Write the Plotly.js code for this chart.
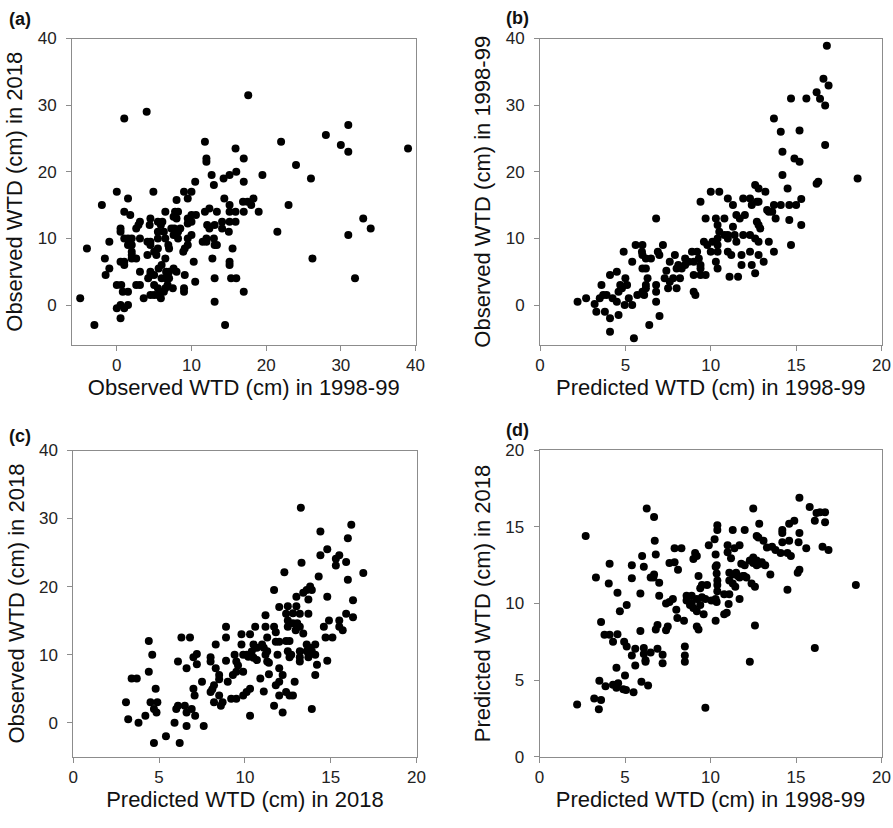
<!DOCTYPE html>
<html>
<head>
<meta charset="utf-8">
<script src="https://cdn.plot.ly/plotly-3.0.1.min.js"></script>
<style>html,body{margin:0;padding:0;background:#fff;}#chart{width:893px;height:828px;}</style>
</head>
<body>
<div id="chart"></div>
<script>
// Panel (a): observed WTD 1998-99 (x) vs observed WTD 2018 (y)
const aObs1998 = [
17.6,4.0,1.0,31.0,28.0,11.8,22.0,15.9,30.0,31.0,
39.0,12.0,12.0,17.0,24.0,12.7,14.3,15.1,16.0,19.5,
26.0,13.0,17.0,10.5,0,4.9,9.0,10.0,9.5,8.0,
1.5,14.4,-2.0,16.9,17.5,18.3,18.0,15.1,12.4,23.0,
1.0,1.8,6.5,7.8,8.2,11.8,13.4,15.1,15.9,17.0,
19.0,7.6,8.0,4.5,3.1,5.5,6.1,9.5,10,10.6,
10,9.5,2.6,2.9,4.4,5.9,5.5,6.3,7.3,7.7,
8.2,8.5,7.6,12.1,12.4,13.1,14.1,14.1,15.1,15.9,
15.0,21.5,33.0,34.0,31.0,0.5,0.5,-1.0,-4.0,1.0,
1.5,2.0,1.5,2.0,2.0,3.1,4.1,4.5,4.5,5.5,
5.5,6.5,6.9,7.0,5.0,5.3,4.1,6.5,8.2,9.5,
10,9.1,8.9,9.5,12,13,12,13.1,13.4,11.5,
15.5,12.8,10.3,15.1,15.1,-1.6,-1.0,-1.5,0.5,1.0,
1.0,2.0,2.6,2.0,3.1,4.5,4.5,5.0,4.2,5.6,
6.0,6.6,7.0,6.0,6.6,7.0,7.6,8.0,9.1,10.5,
13.1,15.3,16.0,26.2,31.9,0,0.6,2.6,3.1,0.8,
1.5,3.6,4.5,5.0,5.5,5.9,5,5.5,6.5,6.8,
7.5,6.3,9.0,9.0,17.0,0,0.5,1.0,1.5,0.5,
13.1,-4.9,-3.0,14.5];
const aObs2018 = [
31.5,29.0,28.0,27.0,25.5,24.5,24.5,23.5,24.0,23.0,
23.5,22.0,21.5,22.0,21.0,19.5,19.0,19.5,20.0,19.5,
19.0,18.0,18.5,18.5,17.0,17.0,17.0,17.0,16.0,15.75,
16.0,16.0,15.0,15.5,15.5,16.0,15.0,15.0,14.5,15.0,
14.0,13.5,14.0,14.0,14.0,14.0,14.0,14.0,14.0,14.0,
14.0,13.25,13.0,13.0,12.5,12.5,12.5,13.0,13.5,13.5,
12.5,12.25,11.5,12.0,12.0,12.0,11.0,11.0,11.5,11.5,
11.0,11.5,10.5,12.0,11.5,12.0,12.5,11.5,12.5,12.5,
11.0,11.0,13.0,11.5,10.5,11.5,11.0,9.5,8.5,10.0,
10.0,10.0,9.0,9.0,8.0,10.0,9.5,9.5,9.0,10.0,
8.5,10.0,9.0,8.5,8.0,7.5,7.5,7.0,10.0,10.0,
10.5,8.5,8.0,9.0,10.0,10.0,9.5,9.0,9.0,9.5,
8.5,7.0,6.5,6.5,6.0,7.0,5.5,4.5,6.5,6.5,
6.0,7.0,7.0,7.5,5.0,5.0,4.5,4.5,4.0,5.5,
6.0,5.0,5.0,4.0,4.0,4.0,5.5,5.0,4.5,3.5,
4.0,4.0,4.0,7.0,4.0,3.0,3.0,3.0,3.0,2.0,
2.0,1.0,1.5,1.5,1.5,1.0,3.0,2.5,2.5,3.0,
2.5,2.0,2.5,2.0,2.0,-0.5,0,-0.5,0,-2.0,
0.5,1.0,-3.0,-3.0];

// Panel (b): predicted WTD 1998-99 (x) vs observed WTD 1998-99 (y)
const bPred1998 = [
16.8,16.6,16.9,16.2,16.4,16.7,14.7,15.6,13.7,14.1,
15.2,14.2,14.9,15.2,16.7,14.2,18.6,16.2,16.3,14.5,
12.6,12.8,13.2,10.0,10.5,9.4,11.0,11.3,11.9,12.3,
12.8,12.4,12.7,13.3,13.4,13.7,13.6,13.8,14.1,14.6,
15.0,15.3,14.6,15.3,6.8,9.7,10.3,10.8,11.5,11.7,
12.0,10.4,11.3,12.7,12.9,12.8,10.5,10.8,11.0,10.4,
10.1,11.4,11.5,11.0,11.9,12.3,12.6,12.8,13.4,9.6,
9.8,10.0,10.4,10.4,11.0,11.2,11.8,11.8,12.3,12.4,
12.6,12.8,13.1,13.7,14.7,11.1,11.6,10.3,10.4,9.7,
9.4,9.0,8.9,9.2,9.3,9.0,9.4,9.4,8.5,8.7,
8.5,8.1,8.0,8.3,7.6,7.9,9.0,9.1,7.4,7.3,
7.6,7.8,8.0,7.5,8.2,5.6,6.0,5.97,6.2,6.5,
6.0,6.9,7.2,6.99,4.9,5.4,6.0,6.2,6.3,6.2,
6.2,6.8,6.8,6.8,6.4,7.0,5.5,4.1,4.1,3.8,
4.6,3.3,2.2,2.7,3.2,3.5,3.7,3.9,3.6,4.1,
4.5,4.25,4.5,4.6,4.7,4.8,5.0,5.1,4.96,5.2,
5.4,5.7,6.0,6.1];
const bObs1998 = [
38.9,33.95,32.95,31.95,30.95,29.95,31,31,28,26,
26.2,23,22,21.5,24,19.5,19,18.2,18.5,17.5,
18,17.5,17,17,17,15.5,16,15,16,16,
15.5,15,15.5,14.25,14,15,14,13,15,15,
15,15.9,12.75,12,13,13,13,13,13.5,13,
13.5,12,11.75,12.5,11.5,12,11,10.5,10.5,10,
9.5,10.5,9.5,10,10.5,10.5,10,9.5,9.5,9.5,
9,8,8,9,8,7.5,7.5,6,8,6,
4.75,7.5,6.5,8,9,4.25,4.25,6.5,5.5,4.5,
4.5,4.5,8,8,7,6.5,6,5.5,7,6.5,
6,6,5.5,5.5,6.5,7.5,2,1.5,5.15,4,
3.5,4,2.5,2.5,4,9,9,8,7,7,
7.5,8,9,7.5,8,6.5,5.5,5.5,4,3,
2.5,3,2,0.5,-3,-1.65,-5,-4,-2,-1,
-1.5,-1,0.5,1,0.15,1,1.5,1.5,3,4.5,
5,1,0.5,2,3,2.5,4,3,0,1,
0,1.5,2,1.5];

// Panel (c): predicted WTD 2018 (x) vs observed WTD 2018 (y)
const cPred2018 = [
13.26,16.2,16.0,14.4,14.8,15.5,15.3,15.3,15.9,13.3,
14.4,12.3,16.9,14.3,16.0,11.7,13.8,13.6,13.9,13.4,
13.7,13.0,14.8,16.3,12.0,12.5,13.0,12.4,12.8,13.2,
12.5,12.8,13.05,12.5,13.2,12.96,13.4,13.7,11.2,15.9,
16.3,14.9,15.5,15.5,15.7,14.6,14.7,15.1,11.2,11.7,
11.8,11.3,11.8,12.0,10.6,8.9,8.9,9.8,10.3,8.3,
10.5,10.7,11.0,11.1,10.4,10.3,10.5,10.7,9.8,9.4,
9.9,10.1,10.2,11.3,11.2,11.3,11.4,11.9,12.4,12.6,
12.5,12.7,12.6,13.2,13.2,13.2,13.6,13.8,14.1,13.6,
13.9,13.7,14.1,14.2,14.1,13.9,14.8,12.0,12.2,12.0,
11.8,12.0,12.2,11.4,10.9,11.1,11.7,12.4,12.6,12.8,
12.9,10.3,10.1,9.9,10.3,9.5,9.6,9.9,9.5,9.3,
9.0,8.9,9.2,9.5,8.3,8.5,8.5,8.2,8.1,8.0,
8.5,8.7,8.6,8.2,8.0,8.0,7.5,7.2,7.0,7.2,
6.3,6.8,6.1,6.6,7.0,7.07,4.4,4.6,4.4,3.4,
3.7,4.8,3.07,4.5,4.9,4.7,4.85,3.2,3.8,4.2,
4.7,5.4,6.2,5.9,6.0,6.1,6.5,6.6,6.9,6.6,
7.1,7.6];
const cObs2018 = [
31.6,29.1,27.1,28.1,25.5,24.6,24.1,23.1,23.6,23.5,
24.6,22.1,22,21.5,21.0,19.5,20,19.5,19.5,19.1,
18.1,18.5,18.5,18.0,17,17.1,17.1,16,16.1,16,
15,14.6,14.6,14.1,14.1,13.6,13.1,16.0,15.8,16,
15.5,15.0,15,14.1,13.6,14.1,12.5,12.5,14.1,14.1,
13.3,12.5,11.9,11.9,14.1,14.1,12.5,13,13,11.5,
11.5,11,11.5,11,10.45,9.95,9.56,9.2,11.5,10,
10,10,9.7,10.5,10,9,8.8,10,12,12,
10.5,10,9.6,10.5,9.6,9,11.5,11,11.5,10.5,
10.5,9.6,10,8.5,7.0,2.0,9.1,8,7,6,
5.5,4,1.5,7.1,6.5,4.6,2.5,4.5,4,4,
6.0,5,4.5,4,1.0,9,8.4,7.5,7.5,7,
6,9.1,3.5,3.5,8,7,6.4,5.5,4.9,4.5,
4,3,2.5,3,9.6,9,6.0,10.1,9.6,8.6,
12.5,12.5,9,8,5,4,12.0,10.0,7.5,6.5,
6.5,5.0,3.0,3,3,2,1.5,0.5,0,1,
-3,-2,-3,0,2,2.5,2.5,1.5,2,-0.5,
1,-0.5];

// Panel (d): predicted WTD 1998-99 (x) vs predicted WTD 2018 (y)
const dPred1998 = [
15.2,15.8,12.5,16.2,16.4,16.1,16.7,16.7,6.27,6.7,
2.7,14.9,14.6,12.85,10.4,10.4,11.3,12.0,14.2,14.2,
12.7,12.8,13.1,10.24,6.74,9.9,11.0,11.7,11.4,11.0,
11.2,7.9,8.3,15.15,14.6,15.2,15.6,16.55,16.9,13.3,
13.6,13.8,14.2,14.1,14.5,14.7,9.1,9.2,9.0,10.3,
10.3,6.8,6.0,4.1,5.4,6.1,7.6,7.9,8.1,3.3,
5.4,6.5,6.7,6.66,7.0,4.05,4.56,5.1,4.7,5.9,
7.0,7.4,7.6,7.8,9.3,9.5,9.8,9.4,10.36,10.36,
10.4,10.4,10.4,11.1,11.3,11.6,11.96,11.5,11.1,11.3,
11.45,11.7,11.9,12.1,11.8,12.0,12.3,12.5,12.7,12.9,
12.5,12.7,13.0,13.2,12.4,12.6,13.5,14.5,15.1,15.2,
18.5,10.3,10.36,10.8,11.1,11.06,10.95,10.8,11.7,10.3,
8.9,9.2,8.8,9.0,9.4,9.5,9.7,9.6,9.2,8.9,
8.6,8.6,8.0,8.06,8.45,9.2,9.3,12.6,10.05,3.6,
3.8,4.1,4.3,4.56,4.95,5.1,5.4,5.6,6.1,6.1,
6.5,6.2,6.2,6.9,7.2,7.2,5.6,5.9,6.8,6.9,
7.5,7.4,8.5,8.5,8.5,12.3,16.1,4.5,3.5,3.86,
4.3,4.6,4.5,4.9,5.06,5.0,5.5,5.96,6.35,3.2,
3.6,3.47,2.2,9.7];
const dPred2018 = [
16.9,16.3,16.2,15.9,15.96,15.4,15.96,15.3,16.2,15.65,
14.4,15.4,15.2,15.2,15.1,14.8,14.8,14.8,14.8,14.6,
14.4,14.3,14.1,14.2,14.1,13.8,13.8,13.8,13.6,13.35,
12.96,13.6,13.6,14,14.1,14.6,13.6,13.7,13.5,13.65,
13.7,13.5,14,13.3,13.3,13.1,13.3,13.1,12.9,13.2,
12.4,13.2,13.1,12.6,12.5,12.4,12.65,12.7,12.2,11.7,
11.65,11.7,11.9,11.7,11.35,11.3,10.7,9.9,9.5,10.65,
10.5,10.0,10.1,10.3,11.8,11.2,11.2,11.0,12.5,11.96,
11.5,11.2,10.8,12.0,11.9,11.8,11.8,12,11.5,11.3,
11.1,11.7,11.8,11.7,12.6,12.5,12.8,13,12.8,12.6,
12.65,12.5,12.7,12.5,11.3,11.1,11.9,10.9,12.0,12.2,
11.2,10.3,10.1,10.6,10.6,9.96,9.4,9.3,10.3,8.87,
10.5,10.3,9.9,9.7,9.9,10.4,10.3,9.3,9.5,10.04,
10.5,10.2,9.6,9.05,8.87,8.5,8.3,8.57,10.2,8.8,
7.96,7.96,7.5,8.0,7.5,7.2,6.6,7.04,7.1,6.7,
6.8,6.3,6.2,7.04,6.65,6.1,5.96,8.2,8.3,8.6,
8.5,8.26,7.2,6.6,6.2,6.2,7.1,5.8,4.96,4.6,
4.7,4.8,4.5,4.4,4.35,5.3,4.2,4.9,4.65,3.8,
3.7,3.1,3.4,3.2];

const panelLabels = ['(a)', '(b)', '(c)', '(d)'];
const xTitles = ['Observed WTD (cm) in 1998-99', 'Predicted WTD (cm) in 1998-99',
                 'Predicted WTD (cm) in 2018', 'Predicted WTD (cm) in 1998-99'];
const yTitles = ['Observed WTD (cm) in 2018', 'Observed WTD (cm) in 1998-99',
                 'Observed WTD (cm) in 2018', 'Predicted WTD (cm) in 2018'];

const W = 893, H = 828;
const FONT = 'Liberation Sans, Arial, sans-serif';
const marker = {color: '#000000', size: 8, line: {width: 0}};

const traces = [
  {x: aObs1998, y: aObs2018, xaxis: 'x', yaxis: 'y'},
  {x: bPred1998, y: bObs1998, xaxis: 'x2', yaxis: 'y2'},
  {x: cPred2018, y: cObs2018, xaxis: 'x3', yaxis: 'y3'},
  {x: dPred1998, y: dPred2018, xaxis: 'x4', yaxis: 'y4'}
].map(t => Object.assign(t, {type: 'scatter', mode: 'markers', marker: marker,
  showlegend: false, hoverinfo: 'x+y'}));

// pixel boxes [left, right, top, bottom]
const boxes = [[72, 415.5, 38.5, 345], [540, 881.5, 38.5, 345],
               [73.3, 416.5, 450.5, 756.7], [539.5, 881.5, 450.3, 756.7]];
const xr = [[-6, 40], [0, 20], [0, 20], [0, 20]];
const yr = [[-6, 40], [-6, 40], [-5, 40], [0, 20]];
const xd = [10, 5, 5, 5];
const yd = [10, 10, 10, 5];

function axis(i, isX) {
  const b = boxes[i];
  const dom = isX ? [b[0] / W, b[1] / W] : [1 - b[3] / H, 1 - b[2] / H];
  return {
    domain: dom,
    range: isX ? xr[i] : yr[i],
    tickmode: 'linear',
    tick0: 0,
    dtick: isX ? xd[i] : yd[i],
    showgrid: false,
    zeroline: false,
    showline: true,
    mirror: true,
    linecolor: '#8c8c8c',
    linewidth: 1,
    ticks: 'outside',
    ticklen: 5,
    tickwidth: 1,
    tickcolor: '#8c8c8c',
    tickfont: {family: FONT, size: 17, color: '#222222'},
    ticklabelstandoff: isX ? 0 : 6,
    anchor: (isX ? 'y' : 'x') + (i === 0 ? '' : (i + 1)),
    title: {text: isX ? xTitles[i] : yTitles[i],
            font: {family: FONT, size: 22, color: '#111111'},
            standoff: isX ? 0 : 8},
    fixedrange: true
  };
}

const layout = {
  width: W, height: H,
  margin: {l: 0, r: 0, t: 0, b: 0},
  paper_bgcolor: '#ffffff',
  plot_bgcolor: '#ffffff',
  font: {family: FONT, color: '#111111'},
  annotations: panelLabels.map((txt, i) => ({
    text: '<b>' + txt + '</b>', xref: 'paper', yref: 'paper',
    x: [7, 504, 7, 504][i] / W, y: 1 - [19, 18, 436, 430][i] / H,
    xanchor: 'left', yanchor: 'middle', showarrow: false,
    font: {family: FONT, size: 18, color: '#111111'}
  }))
};
for (let i = 0; i < 4; i++) {
  const s = i === 0 ? '' : String(i + 1);
  layout['xaxis' + s] = axis(i, true);
  layout['yaxis' + s] = axis(i, false);
}

Plotly.newPlot('chart', traces, layout, {staticPlot: true, displayModeBar: false});
</script>
</body>
</html>
